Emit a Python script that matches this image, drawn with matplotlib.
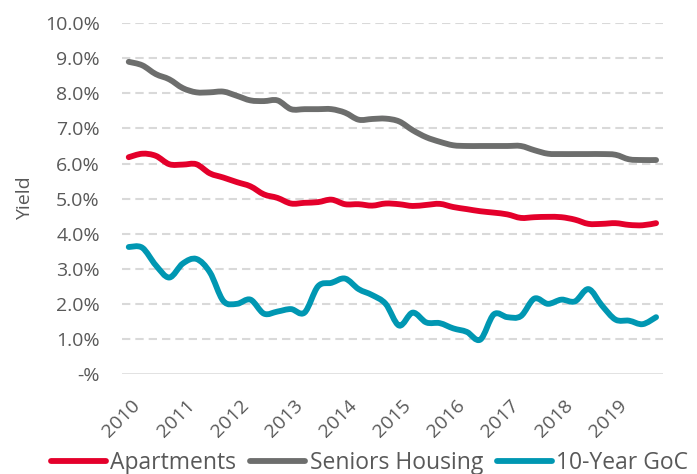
import matplotlib
matplotlib.use("Agg")
import matplotlib.pyplot as plt
import numpy as np
from matplotlib.path import Path
from matplotlib.patches import PathPatch
from matplotlib.lines import Line2D
from matplotlib.transforms import ScaledTranslation

# quarterly data, 2010 Q1 .. 2019 Q4
years = [str(y) for y in range(2010, 2020)]

apartments = [6.18, 6.28, 6.22, 5.98, 5.97, 5.98, 5.72, 5.60, 5.47, 5.35,
              5.12, 5.02, 4.86, 4.88, 4.90, 4.97, 4.84, 4.84, 4.80, 4.86,
              4.84, 4.79, 4.82, 4.85, 4.76, 4.70, 4.64, 4.60, 4.55, 4.45,
              4.47, 4.48, 4.47, 4.40, 4.28, 4.28, 4.30, 4.25, 4.24, 4.30]

seniors = [8.90, 8.80, 8.55, 8.40, 8.15, 8.03, 8.03, 8.05, 7.93, 7.80,
           7.78, 7.80, 7.55, 7.55, 7.55, 7.55, 7.45, 7.25, 7.27, 7.28,
           7.20, 6.95, 6.75, 6.62, 6.52, 6.50, 6.50, 6.50, 6.50, 6.50,
           6.38, 6.28, 6.27, 6.27, 6.27, 6.27, 6.25, 6.12, 6.10, 6.10]

goc = [3.62, 3.60, 3.10, 2.75, 3.15, 3.28, 2.90, 2.08, 2.00, 2.12,
       1.72, 1.78, 1.85, 1.75, 2.50, 2.60, 2.72, 2.42, 2.25, 2.00,
       1.38, 1.75, 1.47, 1.45, 1.30, 1.20, 0.98, 1.70, 1.62, 1.65,
       2.15, 2.00, 2.12, 2.07, 2.42, 1.95, 1.55, 1.52, 1.42, 1.62]

series = [("Apartments", apartments, "#E4002B"),
          ("Seniors Housing", seniors, "#6D6E6D"),
          ("10-Year GoC", goc, "#0097B2")]

text_color = "#595959"
grid_color = "#D9D9D9"


def smooth_path(xs, ys):
    # Excel style smoothed line: Catmull-Rom segments as cubic beziers
    pts = np.column_stack([xs, ys])
    n = len(pts)
    verts = [pts[0]]
    codes = [Path.MOVETO]
    for i in range(n - 1):
        p0 = pts[max(i - 1, 0)]
        p1 = pts[i]
        p2 = pts[i + 1]
        p3 = pts[min(i + 2, n - 1)]
        c1 = p1 + (p2 - p0) / 6
        c2 = p2 - (p3 - p1) / 6
        verts += [c1, c2, p2]
        codes += [Path.CURVE4] * 3
    return Path(verts, codes)


plt.rcParams["font.family"] = ["Open Sans", "DejaVu Sans"]

fig = plt.figure(figsize=(6.97, 4.74), dpi=100)
ax = fig.add_axes([0.175, 0.211, 0.776, 0.740])

x = np.arange(len(apartments))
handles = []
for name, vals, col in series:
    patch = PathPatch(smooth_path(x, vals), fill=False, edgecolor=col,
                      linewidth=4.2, capstyle="round", joinstyle="round", zorder=3)
    ax.add_patch(patch)
    handles.append(Line2D([], [], color=col, linewidth=4.2, solid_capstyle="round"))

ax.set_xlim(-0.5, len(x) - 0.5)
ax.set_ylim(0, 10)

yt = np.arange(0, 11)
ax.set_yticks(yt)
ax.set_yticklabels(["-%"] + ["%.1f%%" % v for v in yt[1:]])
for v in yt[1:]:
    ax.axhline(v, color=grid_color, linewidth=1.5, linestyle=(0, (4, 2.4)), zorder=1)
ax.axhline(0, color=grid_color, linewidth=1.8, zorder=1)

# year labels, rotated, placed like Excel does (end of text near the tick)
ax.set_xticks(x[::4])
ax.set_xticklabels([])
label_tr = ax.get_xaxis_transform() + ScaledTranslation(11 / 72, -16 / 72, fig.dpi_scale_trans)
for xi, yr in zip(x[::4], years):
    ax.text(xi, 0, yr, transform=label_tr, rotation=45, ha="right", va="top",
            fontsize=14, color=text_color)

ax.tick_params(axis="both", length=0, labelsize=14, colors=text_color)
ax.tick_params(axis="y", pad=16)

for s in ax.spines.values():
    s.set_visible(False)

ax.set_ylabel("Yield", fontsize=14, color=text_color, labelpad=8)

fig.legend(handles, [s[0] for s in series], loc="lower center",
           bbox_to_anchor=(0.53, -0.045), ncol=3, frameon=False,
           fontsize=16.5, handlelength=2.4, handletextpad=0.2,
           columnspacing=0.6, labelcolor=text_color)

fig.savefig("out.png", dpi=100)
